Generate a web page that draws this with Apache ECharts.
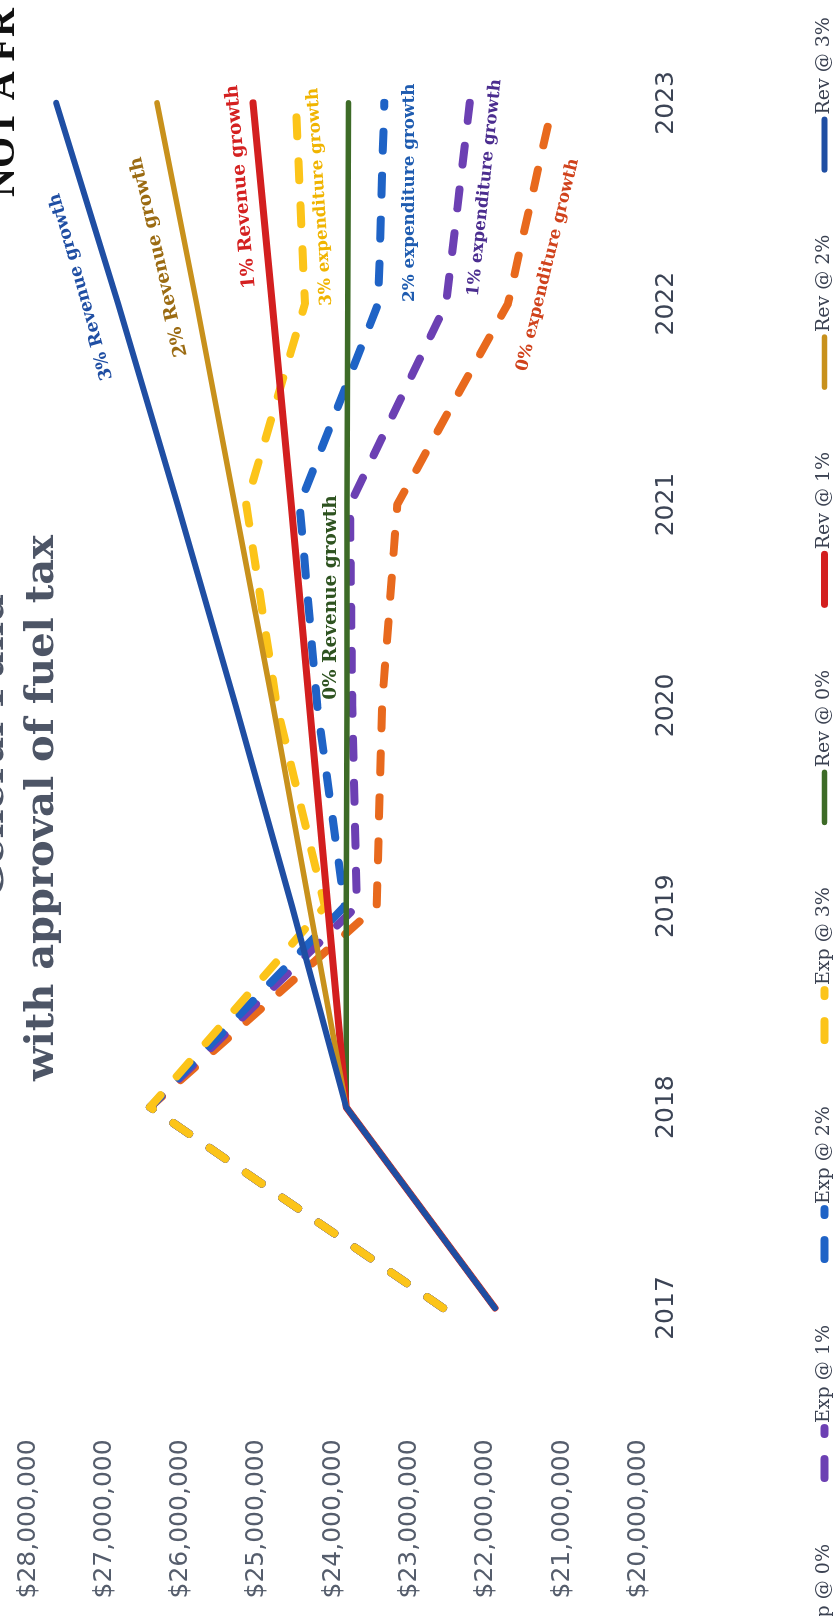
<!DOCTYPE html>
<html>
<head>
<meta charset="utf-8">
<script src="https://cdn.jsdelivr.net/npm/echarts@6/dist/echarts.min.js"></script>
<style>
html,body{margin:0;padding:0;width:833px;height:1616px;overflow:hidden;background:#ffffff;}
#chart{position:absolute;left:0;top:0;width:1616px;height:833px;transform-origin:0 0;transform:rotate(-90deg) translate(-1616px,0);}
</style>
</head>
<body>
<div id="chart"></div>
<script>
// ---- data (values in millions of dollars) ----
const years = ['2017', '2018', '2019', '2020', '2021', '2022', '2023'];
const exp0 = [22.56, 26.40, 23.43, 23.36, 23.16, 21.71, 21.12];
const exp1 = [22.56, 26.40, 23.69, 23.75, 23.78, 22.52, 22.21];
const exp2 = [22.56, 26.40, 23.85, 24.21, 24.44, 23.41, 23.33];
const exp3 = [22.56, 26.40, 24.11, 24.74, 25.14, 24.37, 24.49];
const rev0 = [21.88, 23.83, 23.83, 23.82, 23.82, 23.81, 23.80];
const rev1 = [21.88, 23.83, 24.07, 24.31, 24.55, 24.80, 25.05];
const rev2 = [21.88, 23.83, 24.31, 24.79, 25.29, 25.79, 26.31];
const rev3 = [21.88, 23.83, 24.54, 25.28, 26.04, 26.82, 27.63];
const seriesNames = ['Exp @ 0%', 'Exp @ 1%', 'Exp @ 2%', 'Exp @ 3%', 'Rev @ 0%', 'Rev @ 1%', 'Rev @ 2%', 'Rev @ 3%'];
const yMin = 20, yMax = 28, yStep = 1;
const titleLine1 = 'General Fund';
const titleLine2 = 'with approval of fuel tax';
const stampText = 'NOT A FR';

function money(v) {
  return '$' + Math.round(v * 1000000).toString().replace(/\B(?=(\d{3})+(?!\d))/g, ',');
}

const W = 1616, H = 833;
const chart = echarts.init(document.getElementById('chart'), null, {renderer: 'canvas', width: W, height: H});

const dash = [19, 25];
function lineSeries(name, data, color, width, dashed) {
  return {
    name: name, type: 'line', data: data, symbol: 'none', silent: true,
    lineStyle: {color: color, width: width, type: dashed ? dash : 'solid', cap: 'round', join: 'round'},
    itemStyle: {color: color}
  };
}

const option = {
  backgroundColor: '#ffffff',
  animation: false,
  legend: {
    data: seriesNames,
    left: -90, top: 810, width: 1900,
    itemWidth: 50, itemHeight: 14, itemGap: 62,
    itemStyle: {opacity: 0},
    lineStyle: {width: 'inherit'},
    textStyle: {fontFamily: 'DejaVu Serif', fontSize: 19, color: '#3b4252'}
  },
  grid: {left: 207.6, right: 2.4, top: 28, bottom: 194.6, containLabel: false},
  xAxis: {
    type: 'category', data: years, boundaryGap: true,
    axisLine: {show: false}, axisTick: {show: false}, splitLine: {show: false},
    axisLabel: {margin: 16, fontFamily: 'DejaVu Sans', fontSize: 25, color: '#3c4455'}
  },
  yAxis: {
    type: 'value', min: yMin, max: yMax, interval: yStep,
    axisLine: {show: false}, axisTick: {show: false}, splitLine: {show: false},
    axisLabel: {margin: 31, formatter: money, fontFamily: 'DejaVu Sans', fontSize: 25, color: '#555d6c'}
  },
  series: [
    lineSeries(seriesNames[0], exp0, '#e8691d', 8, true),
    lineSeries(seriesNames[1], exp1, '#6c40b3', 8, true),
    lineSeries(seriesNames[2], exp2, '#1f63c6', 8, true),
    lineSeries(seriesNames[3], exp3, '#fcc419', 8, true),
    lineSeries(seriesNames[4], rev0, '#3d6b27', 5.5, false),
    lineSeries(seriesNames[5], rev1, '#d31f1f', 7, false),
    lineSeries(seriesNames[6], rev2, '#c8911c', 5.5, false),
    lineSeries(seriesNames[7], rev3, '#1f4ea3', 6, false)
  ]
};
chart.setOption(option);

// headings (title block is cut by the page edge, as in the scan)
const headingFont = {fontFamily: 'DejaVu Serif', fontWeight: 'bold', fontSize: 40, fill: '#4d5566', align: 'center', verticalAlign: 'middle'};
const headings = [
  {type: 'text', x: 870, y: -7, style: Object.assign({text: titleLine1}, headingFont)},
  {type: 'text', x: 808, y: 43, style: Object.assign({text: titleLine2}, headingFont)},
  {type: 'text', x: 1419, y: 4, style: {text: stampText, fontFamily: 'Liberation Serif', fontWeight: 'bold', fontSize: 40, fill: '#111111', align: 'left', verticalAlign: 'middle'}}
];

// series annotations, anchored to data points through the chart's scales
const labelSpecs = [
  {text: '3% Revenue growth', data: rev3, idx: 6, dx: -184, dy: 25, rot: 16, color: '#1f4ea3', size: 17.5},
  {text: '2% Revenue growth', data: rev2, idx: 6, dx: -154, dy: 2, rot: 13, color: '#9b6b12', size: 18.5},
  {text: '1% Revenue growth', data: rev1, idx: 6, dx: -84, dy: -12, rot: 5, color: '#d42020', size: 18.5},
  {text: '3% expenditure growth', data: exp3, idx: 6, dx: -94, dy: 24, rot: 3.7, color: '#f0b400', size: 16.8},
  {text: '2% expenditure growth', data: exp2, idx: 6, dx: -90, dy: 25, rot: 0, color: '#1f5cb0', size: 16.8},
  {text: '1% expenditure growth', data: exp1, idx: 6, dx: -85, dy: 15, rot: -6, color: '#4b2d8f', size: 16.8},
  {text: '0% expenditure growth', data: exp0, idx: 6, dx: -162, dy: -5, rot: -13.8, color: '#d0421c', size: 16.8},
  {text: '0% Revenue growth', data: rev0, idx: 4, dx: -93, dy: -16, rot: 0, color: '#2e5320', size: 18.5}
];
const annotations = labelSpecs.map(function (s) {
  const p = chart.convertToPixel({gridIndex: 0}, [s.idx, s.data[s.idx]]);
  return {
    type: 'text', x: p[0] + s.dx, y: p[1] + s.dy, rotation: s.rot * Math.PI / 180, z: 100,
    style: {text: s.text, fill: s.color, fontFamily: 'DejaVu Serif', fontWeight: 'bold', fontSize: s.size,
            align: 'center', verticalAlign: 'middle'}
  };
});
chart.setOption({graphic: headings.concat(annotations)});
</script>
</body>
</html>
